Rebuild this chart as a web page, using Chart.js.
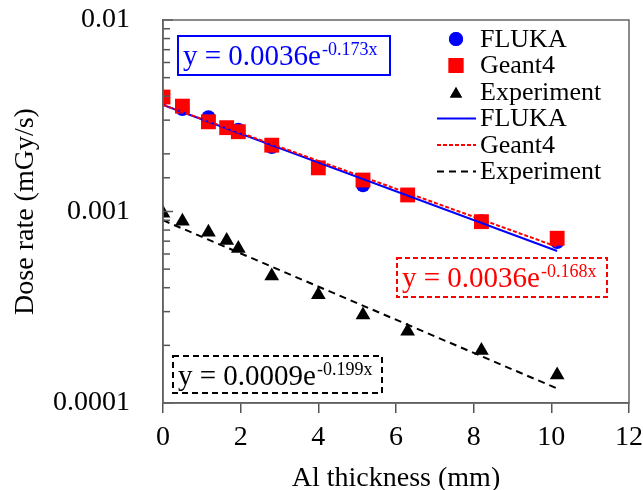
<!DOCTYPE html>
<html>
<head>
<meta charset="utf-8">
<script src="https://cdn.jsdelivr.net/npm/chart.js@4/dist/chart.umd.min.js"></script>
<style>
  html,body{margin:0;padding:0;background:#fff;}
  #wrap{width:643px;height:490px;position:relative;}
</style>
</head>
<body>
<div id="wrap"><canvas id="c" width="643" height="490"></canvas></div>
<script>
// ---- data ----
const thickness = [0, 0.5, 1.17, 1.64, 1.94, 2.8, 4.0, 5.15, 6.3, 8.2, 10.15];
const flukaDose = [0.0039, 0.00343, 0.00311, 0.00273, 0.00267, 0.00217, 0.0017, 0.00137, 0.00122, 0.00089, 0.000693];
const geant4Dose = [0.00396, 0.00355, 0.00294, 0.00274, 0.00261, 0.00222, 0.00169, 0.00146, 0.00122, 0.000885, 0.000725];
const expDose = [0.00098, 0.00089, 0.00078, 0.000705, 0.00064, 0.00046, 0.000368, 0.000288, 0.000237, 0.000188, 0.00014];
const fitX = [0, 10.15];
const flukaFit = [0.0036, 0.000622];
const geant4Fit = [0.0036, 0.000654];
const expFit = [0.0009, 0.000119];
const xTicks = [0, 2, 4, 6, 8, 10, 12];
const yTickLabels = ['0.0001', '0.001', '0.01'];
const seriesNames = ['FLUKA', 'Geant4', 'Experiment'];
const fitEquations = [
  {main: 'y = 0.0036e', sup: '-0.173x'},
  {main: 'y = 0.0036e', sup: '-0.168x'},
  {main: 'y = 0.0009e', sup: '-0.199x'}
];

const SERIF = '"Liberation Serif", "Times New Roman", serif';
const pts = (xs, ys) => xs.map((x, i) => ({x: x, y: ys[i]}));

const datasets = [
  {label: seriesNames[0], data: pts(thickness, flukaDose), showLine: false, pointStyle: 'circle', pointRadius: 7, backgroundColor: '#0000ff', borderColor: '#0000ff', borderWidth: 0, order: 6},
  {label: seriesNames[1], data: pts(thickness, geant4Dose), showLine: false, pointStyle: 'rect', pointRadius: 10.5, backgroundColor: '#ff0000', borderColor: '#ff0000', borderWidth: 0, order: 5},
  {label: seriesNames[2], data: pts(thickness, expDose), showLine: false, pointStyle: 'triangle', pointRadius: 8.5, backgroundColor: '#000000', borderColor: '#000000', borderWidth: 0, order: 4},
  {label: seriesNames[0], data: pts(fitX, flukaFit), showLine: true, pointRadius: 0, borderColor: '#0000ff', borderWidth: 2, order: 3, isFit: true},
  {label: seriesNames[1], data: pts(fitX, geant4Fit), showLine: true, pointRadius: 0, borderColor: '#ff0000', borderWidth: 2, borderDash: [4, 2], order: 2, isFit: true},
  {label: seriesNames[2], data: pts(fitX, expFit), showLine: true, pointRadius: 0, borderColor: '#000000', borderWidth: 2, borderDash: [7, 5], order: 1, isFit: true}
];

const framePlugin = {
  id: 'frame',
  afterDatasetsDraw(chart) {
    const {ctx, chartArea: a, scales} = chart;
    const ys = scales.y;
    ctx.save();
    ctx.strokeStyle = '#555';
    ctx.lineWidth = 1.5;
    ys.ticks.forEach(t => {
      const y = ys.getPixelForValue(t.value);
      const l = Math.log10(t.value);
      const major = Math.abs(l - Math.round(l)) < 1e-6;
      ctx.beginPath();
      ctx.moveTo(a.left, y);
      ctx.lineTo(a.left + (major ? 10 : 7), y);
      ctx.stroke();
    });
    ctx.strokeStyle = '#666';
    ctx.lineWidth = 1.5;
    ctx.strokeRect(a.left, a.top, a.right - a.left, a.bottom - a.top);
    ctx.restore();
  }
};

const legendPlugin = {
  id: 'customLegend',
  afterDraw(chart) {
    const {ctx, chartArea: a} = chart;
    ctx.save();
    const rowY0 = a.top + 19, rowH = 26.5;
    const mx = a.right - 173, tx = a.right - 149;
    ctx.font = '26px ' + SERIF;
    ctx.textBaseline = 'middle';
    ctx.fillStyle = '#000';
    chart.data.datasets.forEach((ds, i) => {
      const y = rowY0 + i * rowH;
      if (!ds.isFit) {
        ctx.fillStyle = ds.backgroundColor;
        const r = ds.pointStyle === 'rect' ? 10.5 : 7;
        Chart.helpers.drawPoint(ctx, {pointStyle: ds.pointStyle, radius: r, borderWidth: 0, rotation: 0}, mx, y + (ds.pointStyle === 'triangle' ? 2 : 0));
        ctx.fill();
      } else {
        ctx.strokeStyle = ds.borderColor;
        ctx.lineWidth = 2;
        ctx.setLineDash(ds.borderDash || []);
        ctx.beginPath();
        ctx.moveTo(a.right - 192, y);
        ctx.lineTo(a.right - 153, y);
        ctx.stroke();
        ctx.setLineDash([]);
      }
      ctx.fillStyle = '#000';
      ctx.fillText(ds.label, tx, y + 1);
    });
    ctx.restore();
  }
};

const eqPlugin = {
  id: 'equations',
  afterDraw(chart) {
    const {ctx, chartArea: a} = chart;
    const boxes = [
      {x: a.left + 15, y: a.top + 16, w: 212, h: 39, color: '#0000ff', dash: []},
      {x: a.left + 234, y: a.top + 238, w: 210, h: 39, color: '#ff0000', dash: [5, 3]},
      {x: a.left + 10, y: a.top + 336, w: 209, h: 37, color: '#000000', dash: [6, 4]}
    ];
    ctx.save();
    boxes.forEach((b, i) => {
      ctx.strokeStyle = b.color;
      ctx.lineWidth = 2;
      ctx.setLineDash(b.dash);
      ctx.fillStyle = '#fff';
      ctx.fillRect(b.x, b.y, b.w, b.h);
      ctx.strokeRect(b.x, b.y, b.w, b.h);
      ctx.setLineDash([]);
      ctx.fillStyle = b.color;
      ctx.textBaseline = 'alphabetic';
      ctx.font = '29px ' + SERIF;
      const base = b.y + 29;
      ctx.fillText(fitEquations[i].main, b.x + 5, base);
      const w = ctx.measureText(fitEquations[i].main).width;
      ctx.font = '18px ' + SERIF;
      ctx.fillText(fitEquations[i].sup, b.x + 5 + w + 1, base - 10);
    });
    ctx.restore();
  }
};

new Chart(document.getElementById('c'), {
  type: 'scatter',
  data: {datasets: datasets},
  options: {
    responsive: false,
    animation: false,
    layout: {padding: {top: 20, right: 14, left: 0, bottom: 0}},
    plugins: {legend: {display: false}, tooltip: {enabled: false}},
    scales: {
      x: {
        type: 'linear', min: 0, max: 12,
        afterBuildTicks: s => { s.ticks = xTicks.map(v => ({value: v})); },
        afterFit: s => { s.height = 87; s.paddingLeft = 0; s.paddingRight = 0; },
        grid: {drawOnChartArea: false, drawTicks: true, tickLength: 10, color: '#555', tickWidth: 1.5, lineWidth: 1.5},
        border: {display: true, color: '#555', width: 1.5},
        ticks: {color: '#000', font: {family: SERIF, size: 28}, padding: 8, maxRotation: 0, autoSkip: false},
        title: {display: true, text: 'Al thickness (mm)', color: '#000', font: {family: SERIF, size: 28}, padding: {top: 0, bottom: -5}}
      },
      y: {
        type: 'logarithmic', min: 0.0001, max: 0.01,
        afterFit: s => { s.width = 163; s.paddingTop = 0; s.paddingBottom = 0; },
        grid: {display: false},
        border: {display: true, color: '#555', width: 1.5},
        ticks: {
          color: '#000', font: {family: SERIF, size: 28}, padding: 25, autoSkip: false,
          callback: (v) => {
            const l = Math.log10(v);
            if (Math.abs(l - Math.round(l)) < 1e-6) {
              return yTickLabels[Math.round(l) + 4];
            }
            return '';
          }
        },
        title: {display: true, text: 'Dose rate (mGy/s)', color: '#000', font: {family: SERIF, size: 28}, padding: {top: 9, bottom: 0}}
      }
    }
  },
  plugins: [framePlugin, legendPlugin, eqPlugin]
});
</script>
</body>
</html>
